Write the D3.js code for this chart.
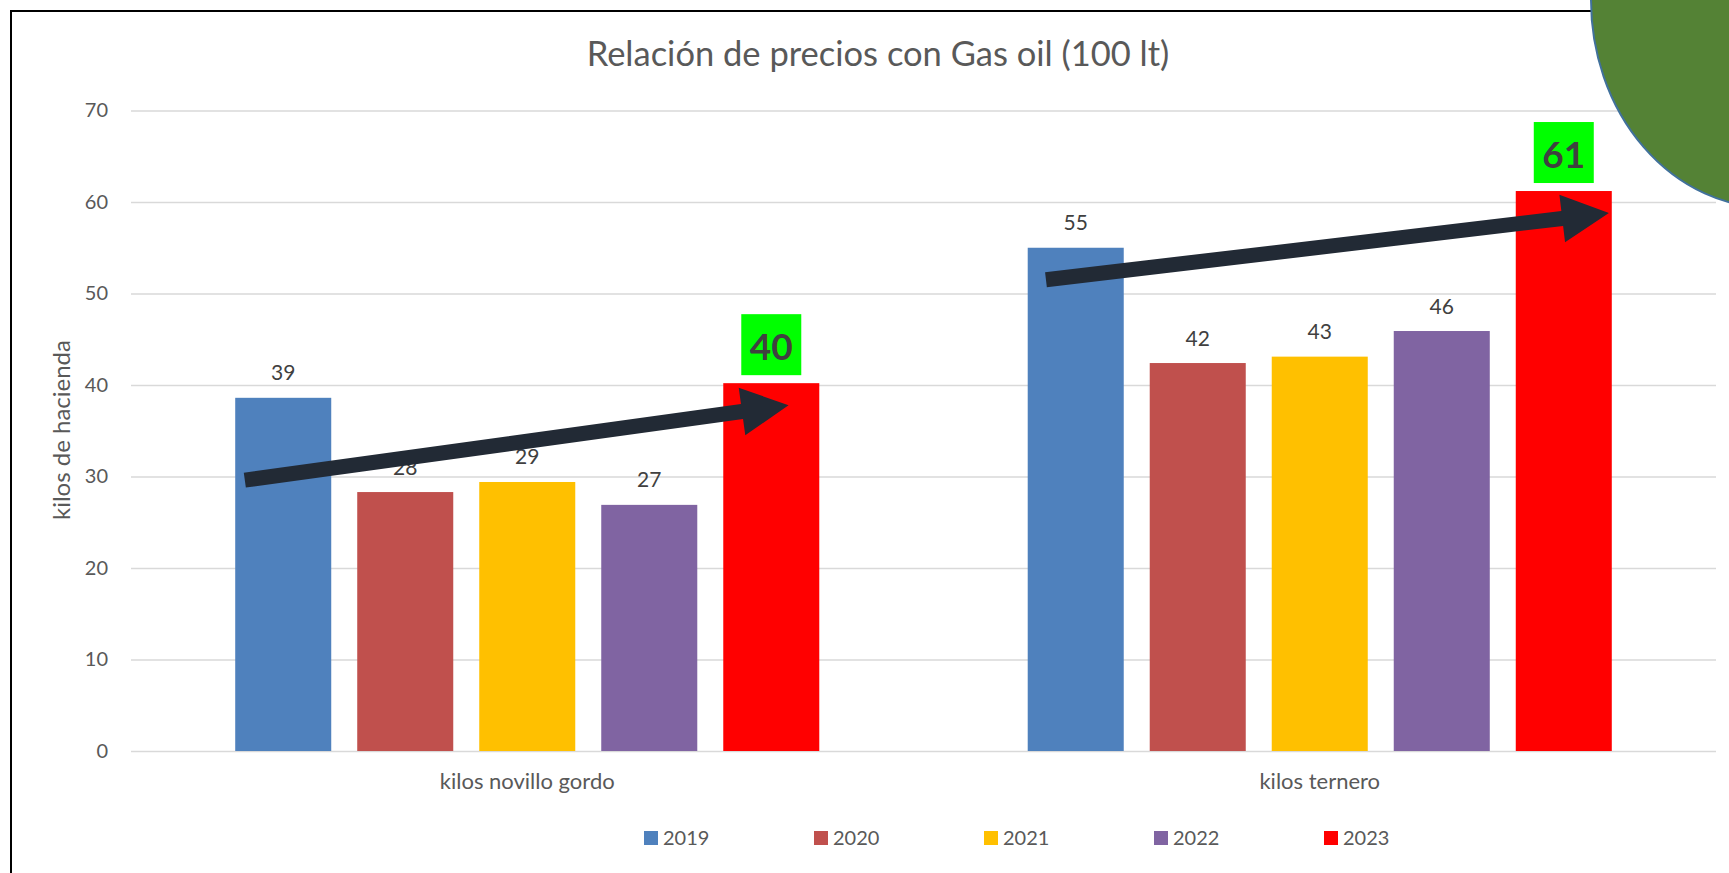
<!DOCTYPE html>
<html>
<head>
<meta charset="utf-8">
<title>Relación de precios con Gas oil (100 lt)</title>
<script src="https://cdn.jsdelivr.net/npm/d3@7"></script>
<style>
  html, body { margin: 0; padding: 0; background: #fff; }
  #chart { width: 1729px; height: 873px; }
  text { font-family: Lato, "Open Sans", sans-serif; }
</style>
</head>
<body>
<div id="chart"></div>
<script>
// Relación de precios con Gas oil - grouped bars

var categories = ["kilos novillo gordo", "kilos ternero"];
var years = ["2019", "2020", "2021", "2022", "2023"];
var novilloValues = [38.6, 28.3, 29.4, 26.9, 40.2];
var terneroValues = [55.0, 42.4, 43.1, 45.9, 61.2];
var yTicks = [0, 10, 20, 30, 40, 50, 60, 70];
var yearColors = ["#4f81bd", "#c0504d", "#ffc000", "#8064a2", "#ff0000"];

// arrows: [category, year band, fraction across band, value]
var arrowTails = [["kilos novillo gordo", "2019", 0.10, 29.6], ["kilos ternero", "2019", 0.19, 51.5]];
var arrowTips = [["kilos novillo gordo", "2023", 0.68, 37.8], ["kilos ternero", "2023", 0.97, 58.8]];

var highlightYear = "2023";

var width = 1729, height = 873;
var margin = {top: 110.5, bottom: 873 - 751, left: 131, right: 1729 - 1716};

var svg = d3.select("#chart").append("svg")
  .attr("width", width)
  .attr("height", height);

// chart border (frame runs off the picture to the right and bottom)
svg.append("rect")
  .attr("x", 11).attr("y", 11)
  .attr("width", 1800).attr("height", 900)
  .attr("fill", "none")
  .attr("stroke", "#000")
  .attr("stroke-width", 2);

var rows = categories.map(function(c, i) {
  var vals = i === 0 ? novilloValues : terneroValues;
  return {category: c, values: years.map(function(y, j) { return {year: y, value: vals[j], color: yearColors[j]}; })};
});

var x0 = d3.scaleBand()
  .domain(categories)
  .range([margin.left, width - margin.right])
  .paddingInner(0.263)
  .paddingOuter(0.1315);

var x1 = d3.scaleBand()
  .domain(years)
  .range([0, x0.bandwidth()])
  .paddingInner(0.213)
  .paddingOuter(0);

var y = d3.scaleLinear()
  .domain([0, 70])
  .range([height - margin.bottom, margin.top]);

// title
svg.append("text")
  .attr("x", 878)
  .attr("y", 66)
  .attr("text-anchor", "middle")
  .attr("fill", "#595959")
  .style("font-size", "34.5px")
  .text("Relación de precios con Gas oil (100 lt)");

// y axis + gridlines
var yAxis = svg.append("g")
  .attr("transform", "translate(" + margin.left + ",0)")
  .call(d3.axisLeft(y).tickValues(yTicks).tickSize(-(width - margin.left - margin.right)).tickPadding(23));
yAxis.select(".domain").remove();
yAxis.selectAll("line").attr("stroke", "#d9d9d9").attr("stroke-width", 1.5);
yAxis.selectAll("text").attr("fill", "#595959").style("font-size", "20px");

svg.append("text")
  .attr("transform", "translate(62,430) rotate(-90)")
  .attr("text-anchor", "middle")
  .attr("dy", "0.35em")
  .attr("fill", "#595959")
  .style("font-size", "24px")
  .text("kilos de hacienda");

// x axis labels
var xAxis = svg.append("g")
  .attr("transform", "translate(0," + y(0) + ")")
  .call(d3.axisBottom(x0).tickSize(0).tickPadding(22));
xAxis.select(".domain").remove();
xAxis.selectAll("text").attr("fill", "#595959").style("font-size", "22px");

// bars
var groups = svg.append("g").selectAll("g")
  .data(rows)
  .enter().append("g")
  .attr("transform", function(d) { return "translate(" + x0(d.category) + ",0)"; });

groups.selectAll("rect")
  .data(function(d) { return d.values; })
  .enter().append("rect")
  .attr("x", function(d) { return x1(d.year); })
  .attr("y", function(d) { return y(d.value); })
  .attr("width", x1.bandwidth())
  .attr("height", function(d) { return y(0) - y(d.value); })
  .attr("fill", function(d) { return d.color; });

// normal labels
groups.selectAll("text.lbl")
  .data(function(d) { return d.values.filter(function(v) { return v.year !== highlightYear; }); })
  .enter().append("text")
  .attr("class", "lbl")
  .attr("x", function(d) { return x1(d.year) + x1.bandwidth() / 2; })
  .attr("y", function(d) { return y(d.value) - 17.5; })
  .attr("text-anchor", "middle")
  .attr("fill", "#404040")
  .style("font-size", "21px")
  .text(function(d) { return d3.format(".0f")(d.value); });

// highlighted labels with green box
var hi = groups.selectAll("g.hi")
  .data(function(d) { return d.values.filter(function(v) { return v.year === highlightYear; }); })
  .enter().append("g")
  .attr("class", "hi");
hi.append("rect")
  .attr("x", function(d) { return x1(d.year) + x1.bandwidth() / 2 - 30; })
  .attr("y", function(d) { return y(d.value) - 8 - 61; })
  .attr("width", 60)
  .attr("height", 61)
  .attr("fill", "#00ff00");
hi.append("text")
  .attr("x", function(d) { return x1(d.year) + x1.bandwidth() / 2; })
  .attr("y", function(d) { return y(d.value) - 8 - 15; })
  .attr("text-anchor", "middle")
  .attr("fill", "#404040")
  .style("font-size", "37px")
  .style("font-weight", "bold")
  .text(function(d) { return d3.format(".0f")(d.value); });

// arrows
function pos(a) {
  return [x0(a[0]) + x1(a[1]) + a[2] * x1.bandwidth(), y(a[3])];
}
var arrows = arrowTails.map(function(t, i) { return {from: pos(t), to: pos(arrowTips[i])}; });

function arrowPoints(d) {
  var dx = d.to[0] - d.from[0], dy = d.to[1] - d.from[1];
  var len = Math.sqrt(dx * dx + dy * dy);
  var ux = dx / len, uy = dy / len, nx = -uy, ny = ux;
  var sh = 7.5, hh = 24, hl = 47;
  var bx = d.to[0] - ux * hl, by = d.to[1] - uy * hl;
  var pts = [
    [d.from[0] + nx * sh, d.from[1] + ny * sh],
    [bx + nx * sh, by + ny * sh],
    [bx + nx * hh, by + ny * hh],
    d.to,
    [bx - nx * hh, by - ny * hh],
    [bx - nx * sh, by - ny * sh],
    [d.from[0] - nx * sh, d.from[1] - ny * sh]
  ];
  return pts.map(function(p) { return p[0] + "," + p[1]; }).join(" ");
}

svg.append("g").selectAll("polygon")
  .data(arrows)
  .enter().append("polygon")
  .attr("points", arrowPoints)
  .attr("fill", "#222a35");

// legend
var lx = d3.scalePoint().domain(years).range([644, 1324]);
var legend = svg.append("g").selectAll("g")
  .data(years)
  .enter().append("g")
  .attr("transform", function(d) { return "translate(" + lx(d) + ",831)"; });
legend.append("rect")
  .attr("width", 14).attr("height", 14)
  .attr("fill", function(d, i) { return yearColors[i]; });
legend.append("text")
  .attr("x", 19)
  .attr("y", 13.5)
  .attr("fill", "#595959")
  .style("font-size", "20px")
  .text(function(d) { return d; });

// green shape in the corner
svg.append("ellipse")
  .attr("cx", 1771).attr("cy", 0)
  .attr("rx", 180).attr("ry", 208)
  .attr("fill", "#548235")
  .attr("stroke", "#41719c")
  .attr("stroke-width", 2);
</script>
</body>
</html>
